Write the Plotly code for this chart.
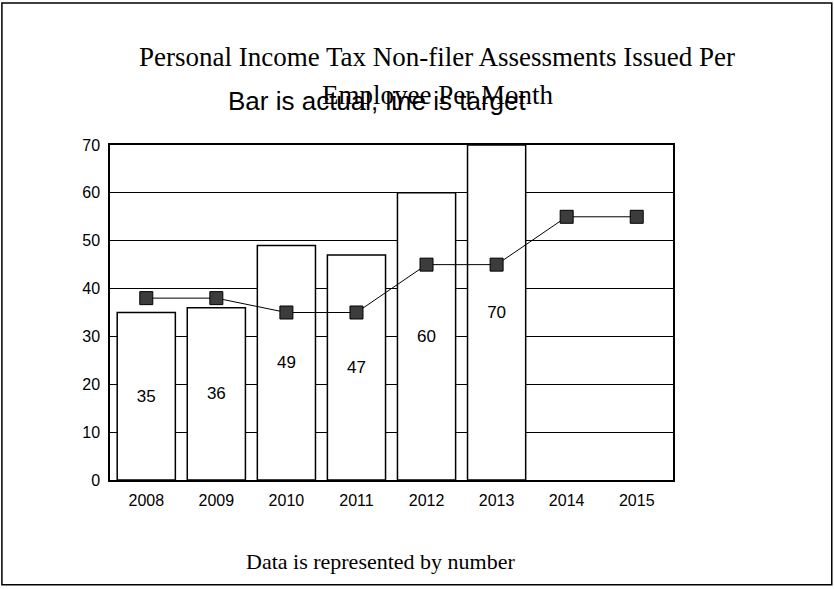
import plotly.graph_objects as go

years = ["2008", "2009", "2010", "2011", "2012", "2013", "2014", "2015"]
actual = [35, 36, 49, 47, 60, 70, None, None]
actual_labels = ["35", "36", "49", "47", "60", "70", "", ""]
target = [38, 38, 35, 35, 45, 45, 55, 55]
y_ticks = [0, 10, 20, 30, 40, 50, 60, 70]

fig = go.Figure()
fig.add_trace(go.Bar(
    x=years, y=actual, text=actual_labels,
    textposition="inside", insidetextanchor="middle",
    textfont=dict(family="Liberation Sans, Arial", size=17, color="black"),
    marker=dict(color="white", line=dict(color="black", width=1.5)),
    showlegend=False, hoverinfo="skip",
))
fig.add_trace(go.Scatter(
    x=years, y=target, mode="lines+markers",
    line=dict(color="black", width=1),
    marker=dict(symbol="square", size=13, color="#3c3c3c",
                line=dict(color="black", width=1)),
    showlegend=False,
))

fig.update_layout(
    width=834, height=589,
    margin=dict(l=110, r=161, t=145, b=109),
    paper_bgcolor="white", plot_bgcolor="white",
    bargap=0.17,
    font=dict(family="Liberation Sans, Arial", color="black"),
    xaxis=dict(
        showline=True, linecolor="black", linewidth=1.5, mirror=True,
        showgrid=False, ticks="", tickfont=dict(size=16),
        ticklabelstandoff=5,
    ),
    yaxis=dict(
        range=[0, 70], tickvals=y_ticks,
        showline=True, linecolor="black", linewidth=1.5, mirror=True,
        showgrid=True, gridcolor="black", gridwidth=1,
        ticks="", tickfont=dict(size=16), zeroline=False,
        ticklabelstandoff=5,
    ),
    annotations=[
        dict(text="Personal Income Tax Non-filer Assessments Issued Per",
             x=0.581, y=1.263, xref="paper", yref="paper",
             xanchor="center", yanchor="middle", showarrow=False,
             font=dict(family="Liberation Serif, Times New Roman", size=27)),
        dict(text="Employee Per Month",
             x=0.581, y=1.149, xref="paper", yref="paper",
             xanchor="center", yanchor="middle", showarrow=False,
             font=dict(family="Liberation Serif, Times New Roman", size=27)),
        dict(text="Bar is actual, line is target",
             x=0.474, y=1.132, xref="paper", yref="paper",
             xanchor="center", yanchor="middle", showarrow=False,
             font=dict(family="Liberation Sans, Arial", size=26)),
        dict(text="Data is represented by number",
             x=0.480, y=-0.242, xref="paper", yref="paper",
             xanchor="center", yanchor="middle", showarrow=False,
             font=dict(family="Liberation Serif, Times New Roman", size=22)),
    ],
    shapes=[
        dict(type="rect", xref="paper", yref="paper",
             x0=-0.192, x1=1.282, y0=-0.313, y1=1.424,
             line=dict(color="black", width=1.5), layer="below"),
    ],
)

fig.write_html("out.html",
               config={"displayModeBar": False},
               post_script="document.body.style.margin='0';document.body.style.overflow='hidden';")
